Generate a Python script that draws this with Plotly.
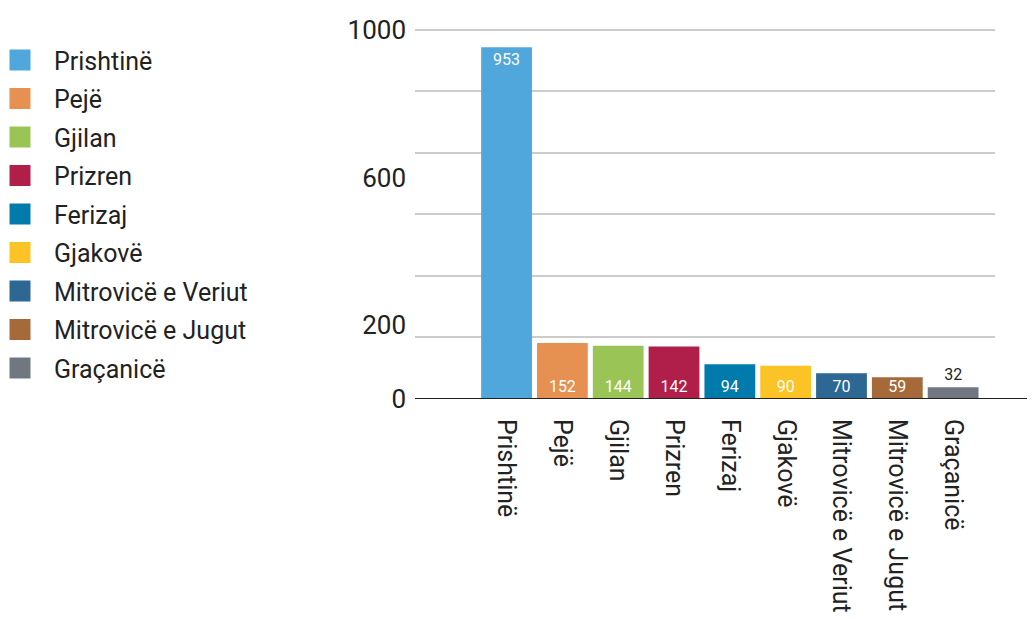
import plotly.graph_objects as go

categories = ["Prishtinë", "Pejë", "Gjilan", "Prizren", "Ferizaj", "Gjakovë",
              "Mitrovicë e Veriut", "Mitrovicë e Jugut", "Graçanicë"]
values = [953, 152, 144, 142, 94, 90, 70, 59, 32]
colors = ["#4FA7DB", "#E69152", "#9BC457", "#B01E4A", "#007BAC", "#FBC326",
          "#2D6794", "#A6693A", "#707780"]
y_tick_vals = [0, 200, 600, 1000]
grid_vals = [i * 1000 / 6 for i in range(7)]

FONT = "Roboto"
W, H = 1035, 619
ML, MR, MT, MB = 407, 48, 20, 228
PW = W - ML - MR
YMAX = 1005

fig = go.Figure()

vmax = max(values)
for cat, val, col in zip(categories, values, colors):
    fig.add_trace(go.Bar(
        x=[cat], y=[val], name=cat, marker=dict(color=col, line=dict(width=0)),
        width=0.91, text=[str(val)],
        textposition="inside" if val > 45 else "outside",
        insidetextanchor="end" if val > vmax / 2 else "start",
        constraintext="none",
        insidetextfont=dict(color="white", size=16, family=FONT),
        outsidetextfont=dict(color="#222222", size=16, family=FONT),
        textangle=0, cliponaxis=False, showlegend=False, yaxis="y2",
    ))

for cat, col in zip(categories, colors):
    fig.add_trace(go.Scatter(
        x=[None], y=[None], mode="markers", name=cat, legendgroup=cat,
        marker=dict(symbol="square", size=16, color=col, line=dict(color=col, width=5)),
        yaxis="y2",
    ))

fig.update_layout(
    width=W, height=H,
    margin=dict(l=ML, r=MR, t=MT, b=MB, autoexpand=False),
    paper_bgcolor="white", plot_bgcolor="white",
    font=dict(family=FONT, color="#222222"),
    barmode="overlay",
    xaxis=dict(
        type="category", categoryorder="array", categoryarray=categories,
        range=[-1.64, 8.75], showgrid=False, zeroline=False,
        showline=False, ticks="", tickangle=90, ticklabelstandoff=19,
        tickfont=dict(size=25, family=FONT, color="#222222"),
    ),
    yaxis=dict(
        range=[0, YMAX], tickvals=grid_vals, showticklabels=False,
        showgrid=True, gridcolor="#cccccc", gridwidth=1.5, zeroline=False, ticks="",
    ),
    yaxis2=dict(
        range=[0, YMAX], overlaying="y", side="left", tickvals=y_tick_vals,
        showgrid=False, zeroline=False, ticks="", ticklabelstandoff=8,
        tickfont=dict(size=26, family=FONT, color="#222222"),
    ),
    legend=dict(
        x=-(ML + 22) / PW, xanchor="left", y=0.975, yanchor="top",
        font=dict(size=25, family=FONT, color="#222222"),
        itemwidth=58, tracegroupgap=3, bgcolor="rgba(0,0,0,0)",
    ),
    shapes=[dict(type="line", xref="paper", yref="y", x0=0, x1=1.2,
                 y0=0, y1=0, line=dict(color="#222222", width=2), layer="above")],
)

fig.write_html("out.html")
